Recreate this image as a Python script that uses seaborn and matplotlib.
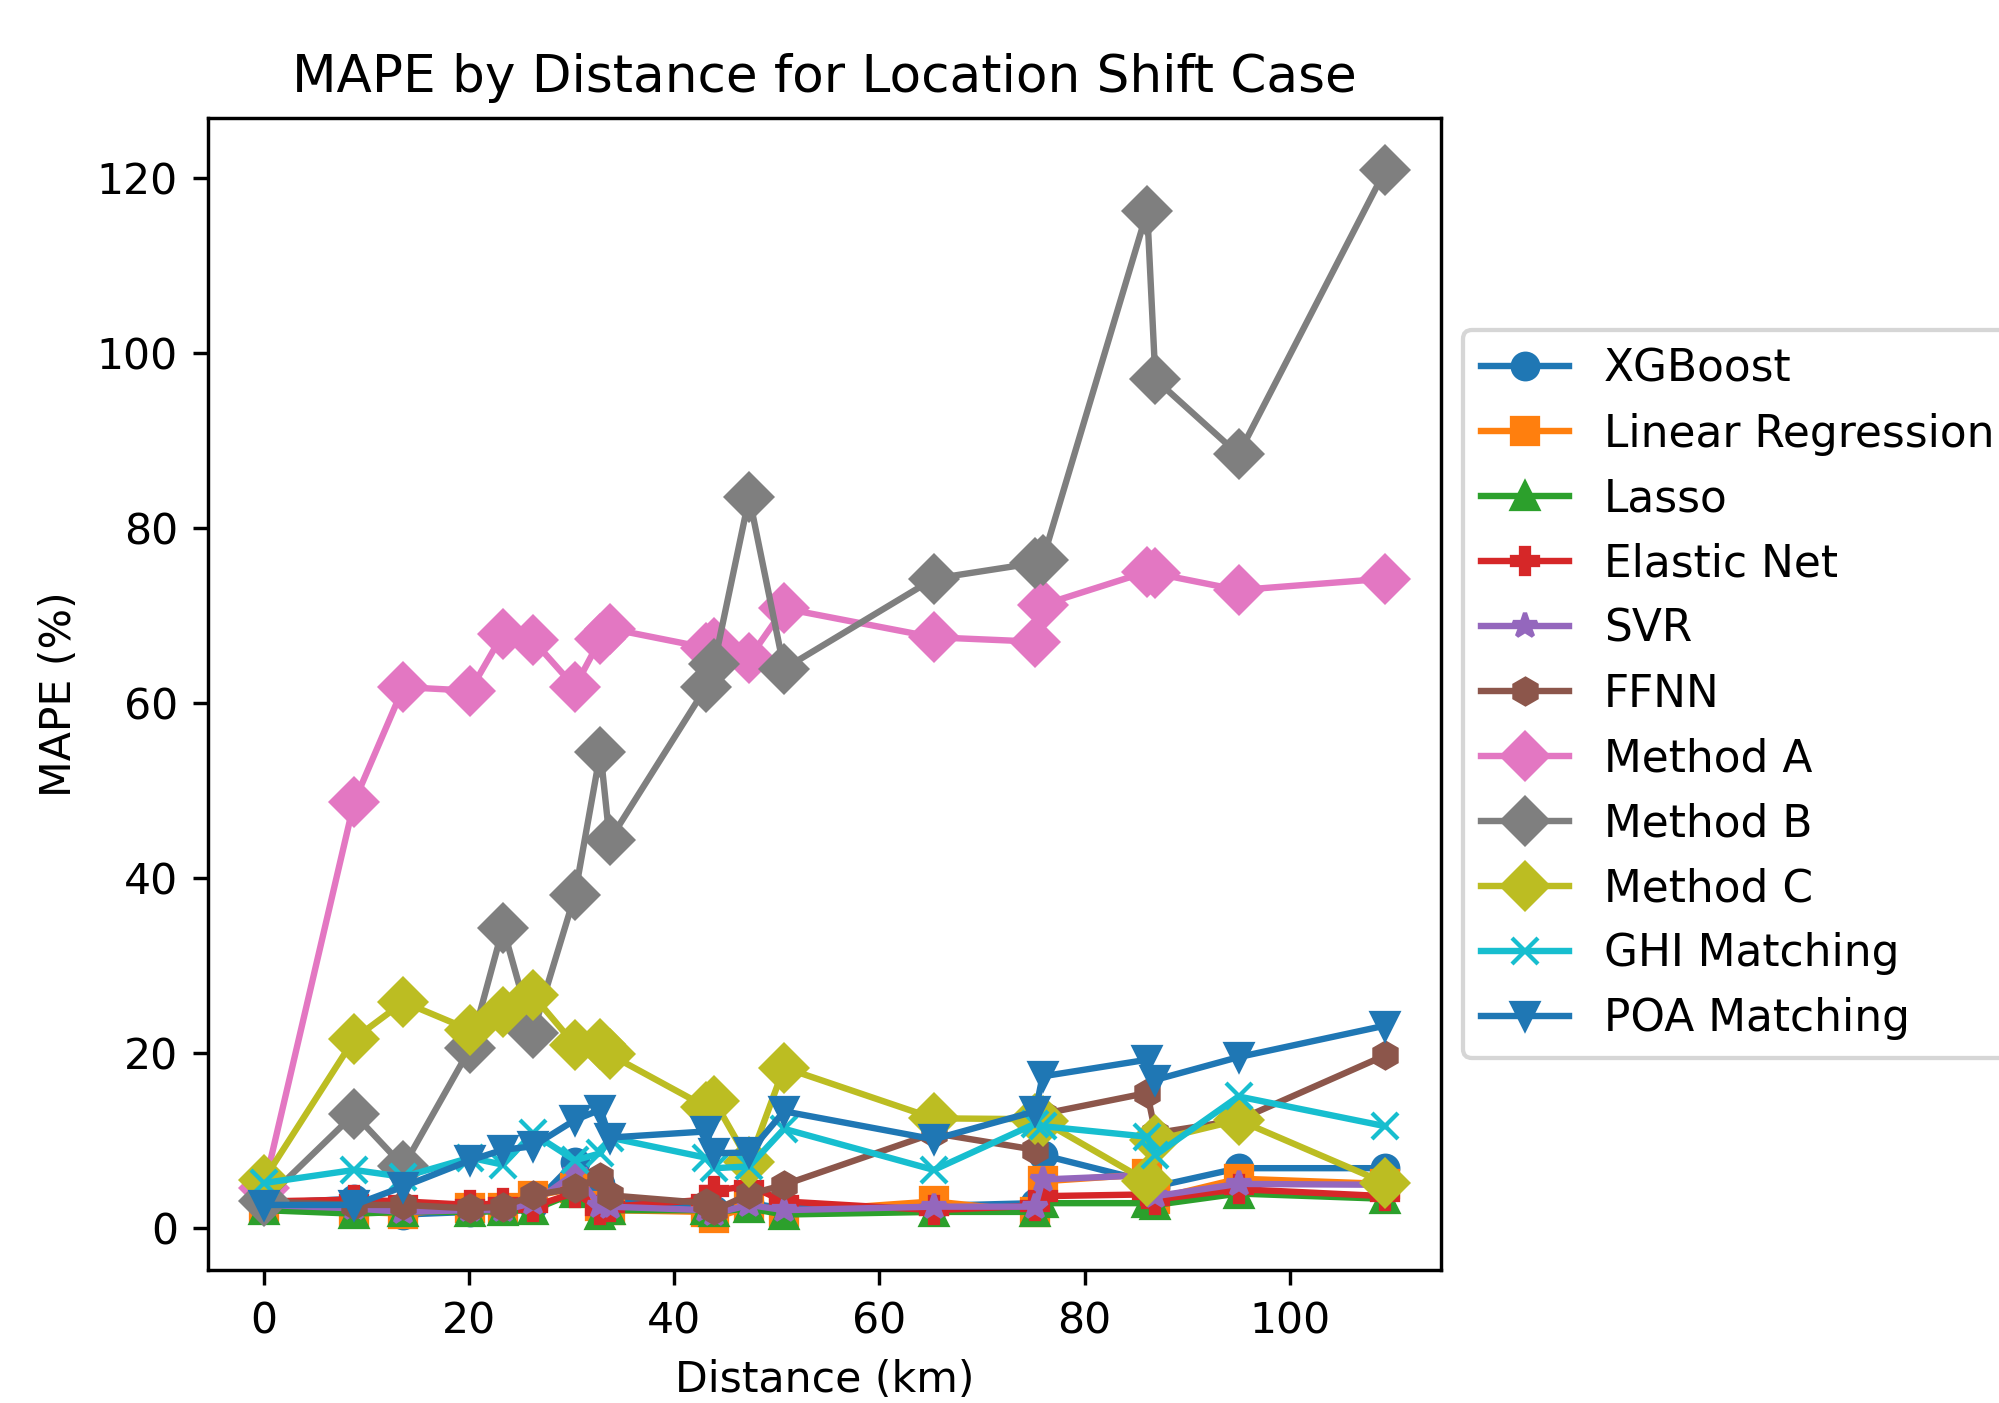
import matplotlib
matplotlib.use("Agg")
import matplotlib.pyplot as plt
import seaborn as sns

# distances of the test sites (km)
dist = [0, 8.8, 13.6, 20.1, 23.3, 26.2, 30.3, 32.8, 33.7, 43.1,
        43.9, 47.3, 50.7, 65.3, 75.2, 75.9, 86.1, 86.9, 95.0, 109.3]

# MAPE (%) per model
xgb = [2.8, 3.3, 1.5, 1.8, 2.0, 2.6, 7.5, 5.0, 3.0, 2.5,
       2.0, 2.8, 2.2, 2.5, 2.8, 8.3, 5.3, 4.7, 6.8, 6.8]
lin_reg = [2.2, 1.8, 1.6, 2.2, 2.2, 3.6, 4.5, 2.5, 2.0, 1.8,
           1.1, 2.4, 1.8, 3.0, 1.8, 5.3, 6.1, 3.3, 5.6, 5.0]
lasso = [2.0, 1.6, 1.8, 1.8, 1.9, 2.0, 4.0, 1.5, 2.0, 2.0,
         1.8, 2.2, 1.5, 1.8, 1.8, 2.8, 2.8, 2.6, 3.9, 3.3]
enet = [3.0, 3.2, 3.0, 2.6, 2.8, 2.4, 4.0, 2.0, 2.4, 3.2,
        4.2, 4.8, 3.0, 2.0, 2.5, 3.6, 3.8, 3.2, 4.4, 3.6]
svr = [2.6, 2.2, 1.8, 2.0, 2.0, 2.8, 6.2, 2.5, 2.4, 2.0,
       1.6, 2.6, 2.0, 2.4, 2.4, 5.5, 6.0, 3.6, 5.0, 4.9]
ffnn = [3.0, 2.6, 2.6, 2.2, 2.4, 3.7, 4.5, 5.8, 3.7, 2.8,
        2.0, 3.8, 4.9, 10.8, 8.9, 13.0, 15.4, 10.8, 12.3, 19.7]
method_a = [4.5, 48.7, 61.8, 61.4, 67.9, 67.2, 61.8, 67.3, 68.5, 66.3,
            66.8, 65.1, 70.8, 67.5, 67.0, 71.2, 75.0, 74.8, 72.9, 74.2]
method_b = [3.0, 13.0, 7.0, 20.5, 34.3, 22.2, 38.0, 54.4, 44.3, 61.8,
            64.5, 83.5, 63.9, 74.2, 76.0, 76.3, 116.2, 97.0, 88.4, 120.9]
method_c = [5.5, 21.6, 25.8, 22.6, 24.7, 26.6, 20.9, 21.0, 19.8, 13.8,
            14.5, 7.5, 18.3, 12.5, 12.4, 12.2, 5.3, 10.0, 12.3, 5.1]
ghi = [5.1, 6.6, 5.8, 8.0, 7.2, 10.8, 7.7, 8.5, 10.3, 8.0,
       6.8, 7.0, 11.3, 6.6, 11.9, 11.6, 10.4, 8.3, 15.0, 11.6]
poa = [2.6, 2.6, 4.7, 7.7, 8.9, 9.3, 12.3, 13.5, 10.3, 11.0,
       8.5, 8.6, 13.3, 10.1, 13.3, 17.3, 19.2, 16.9, 19.5, 23.1]

series = [
    ("XGBoost", xgb, "o", "#1f77b4", 6),
    ("Linear Regression", lin_reg, "s", "#ff7f0e", 6),
    ("Lasso", lasso, "^", "#2ca02c", 6),
    ("Elastic Net", enet, "P", "#d62728", 6),
    ("SVR", svr, "*", "#9467bd", 6),
    ("FFNN", ffnn, "h", "#8c564b", 6),
    ("Method A", method_a, "D", "#e377c2", 7.5),
    ("Method B", method_b, "D", "#7f7f7f", 7.5),
    ("Method C", method_c, "D", "#bcbd22", 7.5),
    ("GHI Matching", ghi, "x", "#17becf", 6),
    ("POA Matching", poa, "v", "#1f77b4", 6),
]

dpi = 307
fig, ax = plt.subplots(figsize=(1999 / dpi, 1403 / dpi), dpi=dpi)
fig.subplots_adjust(left=0.104, right=0.721, top=0.916, bottom=0.0945)

for name, vals, mk, col, ms in series:
    sns.lineplot(x=dist, y=vals, ax=ax, label=name, color=col, marker=mk,
                 markersize=ms, markeredgecolor=col, markeredgewidth=1,
                 linewidth=1.5, estimator=None, sort=False)

ax.set_title("MAPE by Distance for Location Shift Case", fontsize=12.1)
ax.set_xlabel("Distance (km)")
ax.set_ylabel("MAPE (%)")
ax.legend(loc="center left", bbox_to_anchor=(1.0, 0.5), fontsize=10.3)

fig.savefig("out.png", dpi=dpi)
